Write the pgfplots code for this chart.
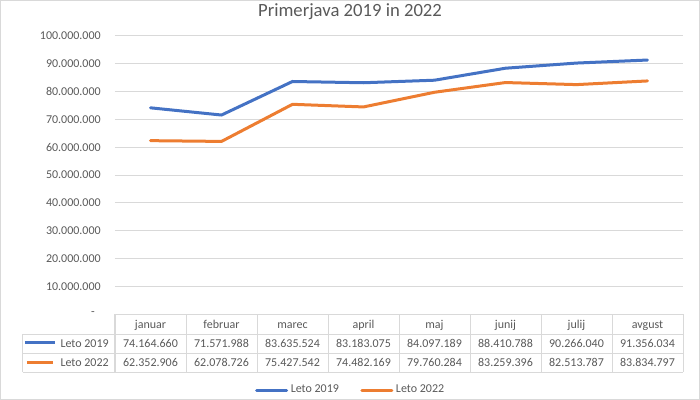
\documentclass[border=0pt]{standalone}
\usepackage{fontspec}
\setmainfont{Carlito}
\usepackage{pgfplots}
\pgfplotsset{compat=1.18}
\definecolor{exblue}{HTML}{4472C4}
\definecolor{exorange}{HTML}{ED7D31}
\definecolor{txt}{HTML}{595959}
\definecolor{gridc}{HTML}{D9D9D9}
\pgfplotstableread{
x y
0 74164660
1 71571988
2 83635524
3 83183075
4 84097189
5 88410788
6 90266040
7 91356034
}\leto
\pgfplotstableread{
x y
0 62352906
1 62078726
2 75427542
3 74482169
4 79760284
5 83259396
6 82513787
7 83834797
}\letob
\begin{document}
\begin{tikzpicture}
\begin{axis}[
  scale only axis, width=426pt, height=208.5pt,
  xmin=-0.5, xmax=7.5, ymin=0, ymax=100000000,
  axis line style={draw=none},
  xtick=\empty,
  scaled y ticks=false,
  ytick={0,10000000,20000000,30000000,40000000,50000000,60000000,70000000,80000000,90000000,100000000},
  yticklabels={-\kern4.5pt,10.000.000,20.000.000,30.000.000,40.000.000,50.000.000,60.000.000,70.000.000,80.000.000,90.000.000,100.000.000},
  ymajorgrids, grid style={gridc, line width=0.75pt},
  major tick length=0pt,
  yticklabel style={font=\fontsize{9}{11}\selectfont, text=txt, inner sep=0pt, xshift=-10.5pt},
  clip=false,
  legend columns=2,
  legend style={at={(0.4155,-0.2734)}, anchor=center, draw=none, fill=none,
    font=\fontsize{9}{11}\selectfont, text=txt, inner sep=0pt,
    /tikz/every even column/.append style={column sep=14pt}},
  legend image code/.code={\draw[#1] (0pt,0pt) -- (22.5pt,0pt);},
]
\addplot[exblue, line width=2.25pt, line join=round, line cap=round] table {\leto};
\addlegendentry{Leto 2019}
\addplot[exorange, line width=2.25pt, line join=round, line cap=round] table {\letob};
\addlegendentry{Leto 2022}
\end{axis}
\begin{scope}[shift={(current axis.south west)}, x=0.75pt, y=0.75pt]
  % title
  \node[anchor=base, font=\fontsize{14}{17}\selectfont, text=txt, inner sep=0pt] at (235,297) {Primerjava 2019 in 2022};
  % data table grid
  \foreach \i in {0,...,8} \draw[gridc, line width=0.75pt] (71*\i,0) -- (71*\i,-58);
  \draw[gridc, line width=0.75pt] (-92,-20) -- (-92,-58);
  \foreach \yy in {-20,-39,-58} \draw[gridc, line width=0.75pt] (-92,\yy) -- (568,\yy);
  % header
  \foreach \lab [count=\i from 0] in {januar,februar,marec,april,maj,junij,julij,avgust}
    \node[anchor=base, inner sep=0pt, text=txt, font=\fontsize{9}{11}\selectfont] at (35.5+71*\i,-14) {\lab};
  \foreach \lab [count=\i from 0] in {74.164.660,71.571.988,83.635.524,83.183.075,84.097.189,88.410.788,90.266.040,91.356.034}
    \node[anchor=base, inner sep=0pt, text=txt, font=\fontsize{9}{11}\selectfont] at (35.5+71*\i,-33) {\lab};
  \foreach \lab [count=\i from 0] in {62.352.906,62.078.726,75.427.542,74.482.169,79.760.284,83.259.396,82.513.787,83.834.797}
    \node[anchor=base, inner sep=0pt, text=txt, font=\fontsize{9}{11}\selectfont] at (35.5+71*\i,-52.5) {\lab};
  \node[anchor=base east, inner sep=0pt, text=txt, font=\fontsize{9}{11}\selectfont] at (-6,-33) {Leto 2019};
  \node[anchor=base east, inner sep=0pt, text=txt, font=\fontsize{9}{11}\selectfont] at (-6,-52.5) {Leto 2022};
  \draw[exblue, line width=2.25pt] (-90,-28.5) -- (-60,-28.5);
  \draw[exorange, line width=2.25pt] (-88,-48.3) -- (-62,-48.3);
  % frame and bounding box
  \pgfresetboundingbox
  \path (-115,314) rectangle (585,-86);
  \draw[gridc, line width=0.75pt] (-114.5,313.5) rectangle (584.5,-85.5);
\end{scope}
\end{tikzpicture}
\end{document}
